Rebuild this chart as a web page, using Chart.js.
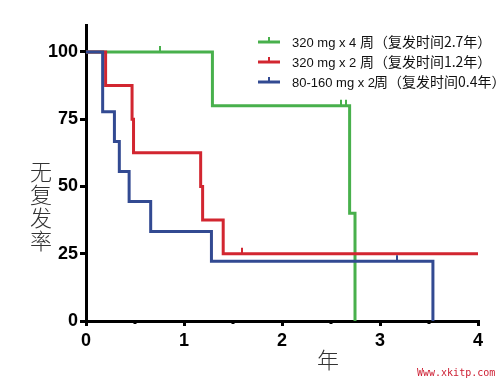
<!DOCTYPE html>
<html><head><meta charset="utf-8">
<script src="https://cdn.jsdelivr.net/npm/chart.js@4/dist/chart.umd.min.js"></script>
<style>html,body{margin:0;padding:0;background:#fff}#wrap{width:497px;height:378px}</style>
</head><body><div id="wrap"><canvas id="c" width="497" height="378"></canvas></div>
<script>
// Data (years, % relapse-free)
const seriesNames = ['320 mg x 4 周（复发时间2.7年）', '320 mg x 2 周（复发时间1.2年）', '80-160 mg x 2周（复发时间0.4年）'];
const greenTimes = [0, 1.29, 2.69, 2.745];
const greenSurv = [100, 80, 40, 0];
const greenCensorTimes = [0.76, 2.60, 2.65];
const greenCensorSurv = [100, 80, 80];
const redTimes = [0, 0.20, 0.47, 0.485, 1.17, 1.19, 1.40, 4.0];
const redSurv = [100, 87.5, 75, 62.5, 50, 37.5, 25, 25];
const redCensorTimes = [1.59];
const redCensorSurv = [25];
const blueTimes = [0, 0.17, 0.29, 0.34, 0.44, 0.66, 1.28, 3.54];
const blueSurv = [100, 77.8, 66.7, 55.6, 44.4, 33.3, 22.2, 0];
const blueCensorTimes = [3.17];
const blueCensorSurv = [22.2];
const xTicks = [0, 1, 2, 3, 4];
const xMinorTicks = [0.5, 1.5, 2.5, 3.5];
const yTicks = [0, 25, 50, 75, 100];
const yTitle = '无复发率';
const xTitle = '年';
const watermark = 'Www.xkitp.com';

const colors = ['rgb(72,176,76)', 'rgb(210,38,48)', 'rgb(50,74,146)'];
const toPts = (t, s) => t.map((x, i) => ({x: x, y: s[i]}));
const censors = [
  {t: greenCensorTimes, s: greenCensorSurv},
  {t: redCensorTimes, s: redCensorSurv},
  {t: blueCensorTimes, s: blueCensorSurv}
];

const extras = {
  id: 'extras',
  afterDatasetsDraw(chart) {
    const ctx = chart.ctx, xs = chart.scales.x, ys = chart.scales.y;
    ctx.save();
    // censor ticks
    censors.forEach((c, k) => {
      ctx.strokeStyle = colors[k]; ctx.lineWidth = 2;
      c.t.forEach((t, i) => {
        const px = Math.round(xs.getPixelForValue(t)), py = ys.getPixelForValue(c.s[i]);
        ctx.beginPath(); ctx.moveTo(px, py); ctx.lineTo(px, py - 6); ctx.stroke();
      });
    });
    // minor x ticks
    ctx.strokeStyle = '#000'; ctx.lineWidth = 3;
    const by = ys.getPixelForValue(0);
    xMinorTicks.forEach(v => {
      const px = Math.round(xs.getPixelForValue(v));
      ctx.beginPath(); ctx.moveTo(px, by); ctx.lineTo(px, by + 3); ctx.stroke();
    });
    // legend
    const lx = 258, ly = [42, 62, 82];
    seriesNames.forEach((n, k) => {
      ctx.strokeStyle = colors[k]; ctx.lineWidth = 3;
      ctx.beginPath(); ctx.moveTo(lx, ly[k]); ctx.lineTo(lx + 22, ly[k]); ctx.stroke();
      ctx.lineWidth = 2;
      ctx.beginPath(); ctx.moveTo(lx + 11, ly[k]); ctx.lineTo(lx + 11, ly[k] - 5); ctx.stroke();
      ctx.fillStyle = '#111';
      ctx.textBaseline = 'middle'; ctx.textAlign = 'left';
      const cut = n.indexOf('周');
      const a = n.slice(0, cut), b = n.slice(cut);
      ctx.font = '13px "Liberation Sans", "Noto Sans CJK SC", sans-serif';
      ctx.fillText(a, 292, ly[k] + 1);
      const w = ctx.measureText(a).width;
      ctx.font = '14px "Noto Sans CJK SC", sans-serif';
      ctx.fillText(b, 292 + w + (a.endsWith(' ') ? 0 : -1), ly[k]);
    });
    // axis titles
    ctx.fillStyle = '#333';
    ctx.font = '300 22px "Noto Sans CJK SC", sans-serif';
    ctx.textAlign = 'center'; ctx.textBaseline = 'middle';
    [...yTitle].forEach((ch, i) => ctx.fillText(ch, 41, 172 + i * 23));
    ctx.fillText(xTitle, 328, 360);
    // watermark
    ctx.fillStyle = 'rgb(205,30,50)';
    ctx.font = '10px "DejaVu Sans Mono", monospace';
    ctx.textAlign = 'left'; ctx.textBaseline = 'alphabetic';
    ctx.fillText(watermark, 417, 376);
    ctx.restore();
  }
};

const ds = (t, s, k, order) => ({
  data: toPts(t, s), borderColor: colors[k], borderWidth: 3, stepped: true,
  pointRadius: 0, fill: false, order: order, clip: 6, borderCapStyle: 'butt', borderJoinStyle: 'miter'
});

new Chart(document.getElementById('c'), {
  type: 'line',
  data: { datasets: [ds(greenTimes, greenSurv, 0, 3), ds(redTimes, redSurv, 1, 2), ds(blueTimes, blueSurv, 2, 1)] },
  options: {
    responsive: false, animation: false, devicePixelRatio: 1,
    layout: { padding: { left: 0, right: 19, top: 25, bottom: 0 } },
    plugins: { legend: { display: false }, tooltip: { enabled: false } },
    scales: {
      x: {
        type: 'linear', min: 0, max: 4,
        afterFit: s => { s.height = 57; },
        afterBuildTicks: s => { s.ticks = xTicks.map(v => ({value: v})); },
        ticks: { color: '#000', font: { family: '"Liberation Sans", Arial, sans-serif', size: 18, weight: 'bold' }, padding: 4, maxRotation: 0 },
        grid: { drawOnChartArea: false, drawTicks: true, tickLength: 5, color: '#000', lineWidth: 3 },
        border: { display: true, color: '#000', width: 3 }
      },
      y: {
        type: 'linear', min: 0, max: 110,
        afterFit: s => { s.width = 86; },
        afterBuildTicks: s => { s.ticks = yTicks.map(v => ({value: v})); },
        ticks: { color: '#000', font: { family: '"Liberation Sans", Arial, sans-serif', size: 18, weight: 'bold' }, padding: 2 },
        grid: { drawOnChartArea: false, drawTicks: true, tickLength: 6, color: '#000', lineWidth: 3 },
        border: { display: true, color: '#000', width: 3 }
      }
    }
  },
  plugins: [extras]
});
</script>
</body></html>
